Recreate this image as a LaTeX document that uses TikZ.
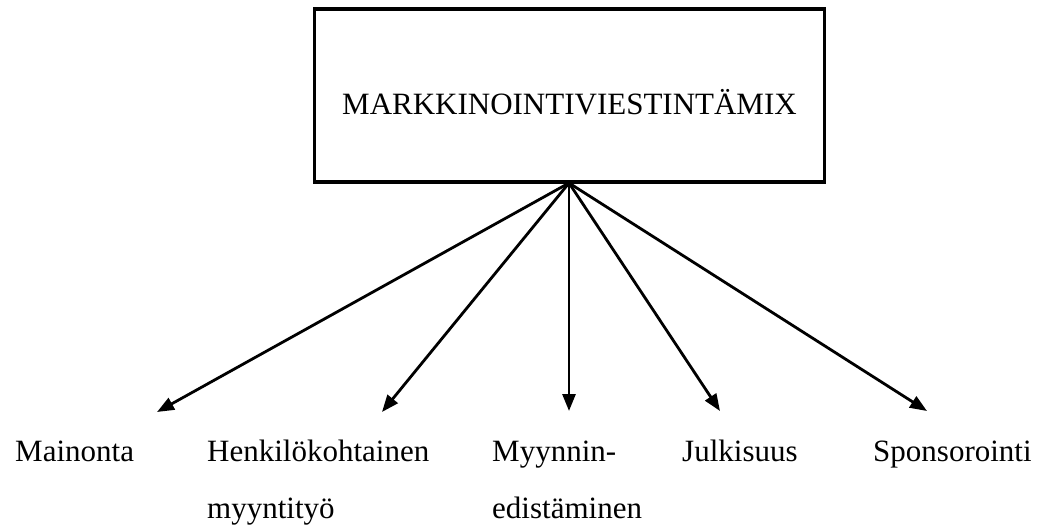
\documentclass[tikz,border=0pt]{standalone}
\usepackage{fontspec}
\setmainfont{Liberation Serif}
\usetikzlibrary{arrows.meta}
\begin{document}
\begin{tikzpicture}[x=1pt,y=-1pt,
  lbl/.style={inner sep=0pt,anchor=base west,font=\fontsize{31}{37}\selectfont},
  link/.style={line width=2.8pt,-{Triangle[length=17pt,width=13pt]}}]
\useasboundingbox (0,0) rectangle (1050,527);
% heading box
\node[draw,line width=3.4pt,minimum width=510pt,minimum height=173pt,inner sep=0pt] (mix) at (569.5,95.5) {};
\node[lbl,anchor=base] (title) at (569.5,114.5) {MARKKINOINTIVIESTINTÄMIX};
\coordinate (hub) at (569,183);
% arrow tips
\coordinate (t1) at (157,412);
\coordinate (t2) at (382,412);
\coordinate (t3) at (569,411);
\coordinate (t4) at (720,411);
\coordinate (t5) at (927,411);
% labels
\node[lbl] (mai) at (15,461) {Mainonta};
\node[lbl] (hen) at (207,461) {Henkilökohtainen};
\node[lbl] (hen2) at (207,518) {myyntityö};
\node[lbl] (myy) at (492,461) {Myynnin-};
\node[lbl] (myy2) at (492,518) {edistäminen};
\node[lbl] (jul) at (682,461) {Julkisuus};
\node[lbl] (spo) at (873,461) {Sponsorointi};
% connectors
\foreach \t in {t1,t2,t3,t4,t5}
  \draw[link] (hub) -- (\t);
\end{tikzpicture}
\end{document}
